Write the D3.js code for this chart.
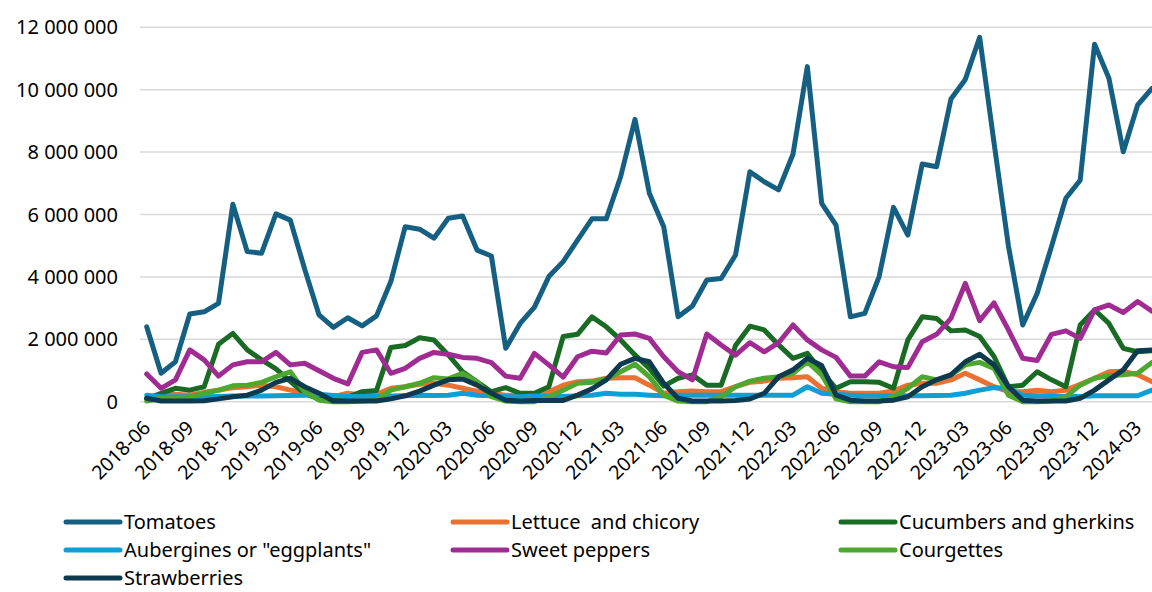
<!DOCTYPE html>
<html>
<head>
<meta charset="utf-8">
<script src="https://cdn.jsdelivr.net/npm/d3@7"></script>
<style>
  body { margin: 0; background: #fff; }
  svg text { font-family: "Noto Sans", "Liberation Sans", sans-serif; fill: #000; white-space: pre; }
</style>
</head>
<body>
<div id="chart"></div>
<script>
// monthly volumes, millions (2018-06 .. 2024-04)
var months = d3.timeMonth.range(new Date(2018, 5, 1), new Date(2024, 4, 1)).map(d3.timeFormat("%Y-%m"));

var tomatoes = [2.40, 0.91, 1.28, 2.81, 2.88, 3.15, 6.33, 4.81, 4.76, 6.02, 5.82, 4.25, 2.78, 2.38, 2.69, 2.43, 2.75, 3.85, 5.61, 5.53, 5.24, 5.88, 5.95, 4.86, 4.67, 1.71, 2.51, 3.03, 4.01, 4.49, 5.18, 5.86, 5.86, 7.21, 9.05, 6.68, 5.61, 2.72, 3.07, 3.90, 3.95, 4.70, 7.37, 7.05, 6.79, 7.93, 10.74, 6.36, 5.66, 2.72, 2.83, 4.01, 6.23, 5.34, 7.62, 7.53, 9.70, 10.33, 11.68, 8.30, 5.00, 2.46, 3.47, 4.97, 6.52, 7.10, 11.46, 10.37, 8.01, 9.51, 10.04];
var lettuce = [0.09, 0.21, 0.24, 0.21, 0.30, 0.37, 0.45, 0.48, 0.53, 0.48, 0.37, 0.27, 0.21, 0.16, 0.27, 0.21, 0.24, 0.43, 0.48, 0.56, 0.59, 0.53, 0.43, 0.34, 0.27, 0.21, 0.19, 0.21, 0.32, 0.53, 0.64, 0.66, 0.75, 0.77, 0.77, 0.53, 0.27, 0.32, 0.34, 0.32, 0.32, 0.48, 0.62, 0.66, 0.75, 0.77, 0.80, 0.43, 0.32, 0.27, 0.27, 0.27, 0.34, 0.53, 0.59, 0.59, 0.70, 0.91, 0.70, 0.48, 0.32, 0.32, 0.37, 0.32, 0.37, 0.56, 0.75, 0.96, 0.98, 0.86, 0.64];
var cucumbers = [0.09, 0.27, 0.43, 0.37, 0.48, 1.84, 2.19, 1.66, 1.34, 1.05, 0.65, 0.25, 0.10, 0.05, 0.15, 0.32, 0.36, 1.74, 1.80, 2.05, 1.98, 1.50, 0.96, 0.64, 0.32, 0.45, 0.27, 0.27, 0.48, 2.09, 2.16, 2.72, 2.40, 1.98, 1.50, 1.07, 0.50, 0.75, 0.86, 0.53, 0.53, 1.80, 2.42, 2.30, 1.82, 1.39, 1.55, 0.96, 0.43, 0.64, 0.64, 0.62, 0.43, 1.98, 2.72, 2.67, 2.27, 2.30, 2.09, 1.45, 0.48, 0.53, 0.96, 0.70, 0.48, 2.46, 2.94, 2.51, 1.71, 1.60, 1.63];
var aubergines = [0.21, 0.16, 0.16, 0.16, 0.16, 0.17, 0.18, 0.18, 0.18, 0.19, 0.20, 0.21, 0.24, 0.20, 0.17, 0.17, 0.17, 0.18, 0.19, 0.21, 0.20, 0.21, 0.27, 0.21, 0.19, 0.16, 0.16, 0.18, 0.17, 0.17, 0.19, 0.21, 0.27, 0.24, 0.24, 0.21, 0.19, 0.21, 0.21, 0.21, 0.21, 0.21, 0.21, 0.21, 0.21, 0.21, 0.48, 0.27, 0.24, 0.21, 0.19, 0.19, 0.19, 0.19, 0.19, 0.20, 0.21, 0.27, 0.37, 0.45, 0.43, 0.21, 0.19, 0.18, 0.17, 0.17, 0.19, 0.19, 0.19, 0.19, 0.37];
var peppers = [0.89, 0.43, 0.70, 1.66, 1.34, 0.82, 1.18, 1.28, 1.28, 1.58, 1.18, 1.23, 0.99, 0.75, 0.57, 1.58, 1.66, 0.91, 1.07, 1.39, 1.58, 1.52, 1.42, 1.39, 1.25, 0.82, 0.75, 1.55, 1.18, 0.79, 1.44, 1.62, 1.56, 2.14, 2.17, 2.03, 1.44, 0.96, 0.70, 2.17, 1.82, 1.49, 1.89, 1.60, 1.89, 2.46, 1.98, 1.66, 1.42, 0.82, 0.82, 1.28, 1.12, 1.10, 1.92, 2.16, 2.67, 3.79, 2.60, 3.17, 2.30, 1.39, 1.32, 2.16, 2.27, 2.03, 2.94, 3.10, 2.86, 3.21, 2.90];
var courgettes = [0.02, 0.11, 0.11, 0.16, 0.27, 0.37, 0.51, 0.53, 0.62, 0.80, 0.96, 0.32, 0.05, 0.00, 0.00, 0.02, 0.05, 0.37, 0.48, 0.59, 0.77, 0.73, 0.91, 0.64, 0.16, 0.02, 0.00, 0.00, 0.16, 0.37, 0.59, 0.62, 0.73, 0.96, 1.20, 0.80, 0.21, 0.02, 0.00, 0.00, 0.16, 0.48, 0.66, 0.75, 0.80, 0.91, 1.28, 0.86, 0.09, 0.00, 0.00, 0.00, 0.16, 0.43, 0.80, 0.70, 0.86, 1.18, 1.26, 1.07, 0.21, 0.00, 0.00, 0.02, 0.16, 0.53, 0.75, 0.83, 0.86, 0.91, 1.26];
var strawberries = [0.11, 0.02, 0.02, 0.02, 0.03, 0.09, 0.16, 0.21, 0.37, 0.62, 0.75, 0.48, 0.27, 0.02, 0.02, 0.02, 0.02, 0.09, 0.19, 0.34, 0.53, 0.70, 0.73, 0.53, 0.27, 0.05, 0.02, 0.04, 0.04, 0.04, 0.21, 0.41, 0.70, 1.20, 1.39, 1.28, 0.59, 0.11, 0.02, 0.02, 0.02, 0.04, 0.09, 0.27, 0.80, 1.02, 1.39, 1.16, 0.21, 0.05, 0.02, 0.02, 0.05, 0.16, 0.48, 0.70, 0.86, 1.28, 1.52, 1.18, 0.48, 0.05, 0.02, 0.02, 0.02, 0.11, 0.37, 0.70, 1.02, 1.63, 1.66];

var names = ["Tomatoes", "Lettuce  and chicory", "Cucumbers and gherkins", 'Aubergines or "eggplants"', "Sweet peppers", "Courgettes", "Strawberries"];
var colors = ["#156082", "#e97132", "#196b24", "#0f9ed5", "#a02b93", "#4ea72e", "#0e3a50"];
var yTicks = [0, 2, 4, 6, 8, 10, 12];

var series = [tomatoes, lettuce, cucumbers, aubergines, peppers, courgettes, strawberries];

var width = 1152, height = 592;
var svg = d3.select("#chart").append("svg")
  .attr("width", width)
  .attr("height", height);

var x = d3.scalePoint().domain(months).range([146.7, 1152]);
var y = d3.scaleLinear().domain([0, 12]).range([401.7, 27.3]);

var fmt = d3.formatLocale({ decimal: ",", thousands: " ", grouping: [3], currency: ["", ""] }).format(",");

// gridlines
svg.append("g")
  .selectAll("line")
  .data(yTicks)
  .enter().append("line")
  .attr("x1", 140).attr("x2", width)
  .attr("y1", function(d) { return y(d); })
  .attr("y2", function(d) { return y(d); })
  .attr("stroke", "#d9d9d9")
  .attr("stroke-width", 1.5);

// y labels
svg.append("g")
  .selectAll("text")
  .data(yTicks)
  .enter().append("text")
  .attr("x", 118)
  .attr("y", function(d) { return y(d); })
  .attr("dy", "0.35em")
  .attr("text-anchor", "end")
  .style("font-size", "20px")
  .text(function(d) { return fmt(d * 1e6); });

// x labels, every third month
svg.append("g")
  .selectAll("text")
  .data(months.filter(function(d, i) { return i % 3 === 0; }))
  .enter().append("text")
  .attr("text-anchor", "end")
  .attr("transform", function(d) { return "translate(" + (x(d) + 5) + ",429) rotate(-45)"; })
  .style("font-size", "19.5px")
  .text(function(d) { return d; });

var line = d3.line()
  .x(function(d, i) { return x(months[i]); })
  .y(function(d) { return y(d); });

svg.append("g")
  .selectAll("path")
  .data(series)
  .enter().append("path")
  .attr("d", line)
  .attr("fill", "none")
  .attr("stroke", function(d, i) { return colors[i]; })
  .attr("stroke-width", 5)
  .attr("stroke-linejoin", "round")
  .attr("stroke-linecap", "round");

// legend
var legendX = [66, 453, 841];
var leg = svg.append("g")
  .selectAll("g")
  .data(names)
  .enter().append("g")
  .attr("transform", function(d, i) {
    return "translate(" + legendX[i % 3] + "," + (522 + Math.floor(i / 3) * 28) + ")";
  });

leg.append("line")
  .attr("x1", 0).attr("x2", 54)
  .attr("stroke", function(d, i) { return colors[i]; })
  .attr("stroke-width", 5)
  .attr("stroke-linecap", "round");

leg.append("text")
  .attr("x", 58)
  .attr("dy", "0.35em")
  .style("font-size", "20px")
  .text(function(d) { return d; });
</script>
</body>
</html>
